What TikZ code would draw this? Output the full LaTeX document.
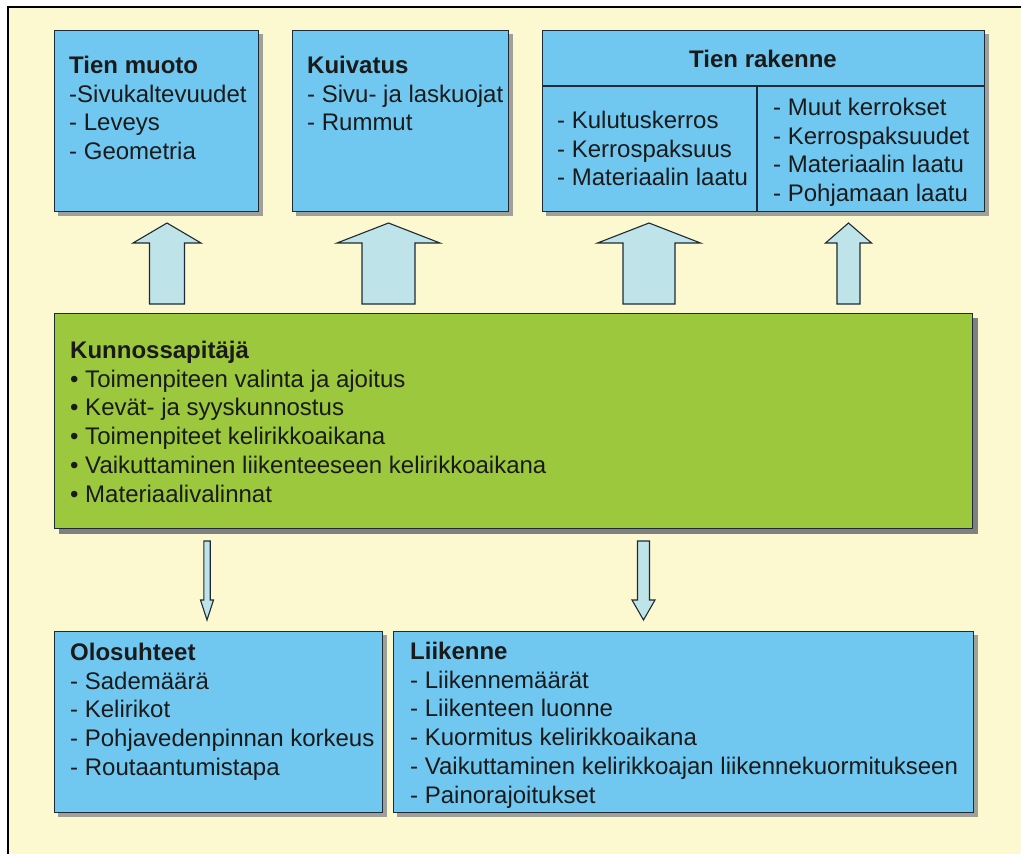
\documentclass[tikz,border=0pt]{standalone}
\usepackage{fontspec}
\setmainfont{Liberation Sans}
\usetikzlibrary{calc,backgrounds}

\definecolor{cream}{HTML}{FCF9D1}
\definecolor{skyfill}{HTML}{70C8F0}
\definecolor{leaf}{HTML}{9BC83C}
\definecolor{arrowfill}{HTML}{BEE3E8}
\definecolor{edge}{HTML}{1E2A35}
\definecolor{ink}{HTML}{1A1A1A}
\definecolor{softshadow}{HTML}{A0A09A}
\definecolor{darkshadow}{HTML}{808080}

\tikzset{
  box/.style={draw=edge, line width=1.4pt, anchor=north west, inner sep=0pt},
  bluebox/.style={box, fill=skyfill},
  greenbox/.style={box, fill=leaf},
  txt/.style={anchor=north west, inner sep=0pt, align=left, text=ink,
              font=\fontsize{24}{28.8}\selectfont},
  blockarrow/.style={draw=edge, line width=1.1pt, fill=arrowfill, line join=miter},
}

% first-line strut: puts the first baseline 20pt below the node top
\newcommand{\st}{\rule{0pt}{20pt}}
\newcommand{\hd}[1]{\textbf{#1}}

% block arrow from #1 (base) to #2 (tip), shaft half width #3,
% head half width #4, signed head length #5
\newcommand{\fatarrow}[5]{%
  \draw[blockarrow] ($(#1)+(-#3,0)$) -- ($(#2)+(-#3,#5)$) -- ($(#2)+(-#4,#5)$)
    -- (#2) -- ($(#2)+(#4,#5)$) -- ($(#2)+(#3,#5)$) -- ($(#1)+(#3,0)$) -- cycle;}

\begin{document}
\begin{tikzpicture}[x=1pt,y=-1pt]
\useasboundingbox (0,0) rectangle (1021,854);

% ---- boxes ----
\node[bluebox, minimum width=204pt, minimum height=181pt] (muoto) at (54,30) {};
\node[bluebox, minimum width=216pt, minimum height=181pt] (kuiv) at (292,30) {};
\node[bluebox, minimum width=442pt, minimum height=181pt] (rak) at (542,30) {};
\node[greenbox, minimum width=918pt, minimum height=215pt] (kp) at (54,313) {};
\node[bluebox, minimum width=328pt, minimum height=181pt] (olo) at (54,631) {};
\node[bluebox, minimum width=580pt, minimum height=181pt] (liik) at (393,631) {};

% dividers inside the road structure box
\draw[edge, line width=1.4pt] ($(rak.north west)+(0,56)$) -- ($(rak.north east)+(0,56)$);
\draw[edge, line width=1.4pt] ($(rak.north west)+(215,56)$) -- ($(rak.south west)+(215,0)$);

% ---- texts ----
\node[txt] (t-muoto) at (69,53)
  {\st\hd{Tien muoto}\\-Sivukaltevuudet\\- Leveys\\- Geometria};
\node[txt] (t-kuiv) at (307,53)
  {\st\hd{Kuivatus}\\- Sivu- ja laskuojat\\- Rummut};
\node[txt, anchor=base] (t-rak) at (763,67) {\hd{Tien rakenne}};
\node[txt] (t-rak1) at (557,108)
  {\st- Kulutuskerros\\- Kerrospaksuus\\- Materiaalin laatu};
\node[txt] (t-rak2) at (773,95)
  {\st- Muut kerrokset\\- Kerrospaksuudet\\- Materiaalin laatu\\- Pohjamaan laatu};
\node[txt] (t-kp) at (70,338)
  {\st\hd{Kunnossapitäjä}\\• Toimenpiteen valinta ja ajoitus\\• Kevät- ja syyskunnostus\\%
   • Toimenpiteet kelirikkoaikana\\• Vaikuttaminen liikenteeseen kelirikkoaikana\\• Materiaalivalinnat};
\node[txt] (t-olo) at (70,640)
  {\st\hd{Olosuhteet}\\- Sademäärä\\- Kelirikot\\- Pohjavedenpinnan korkeus\\- Routaantumistapa};
\node[txt] (t-liik) at (410,639)
  {\st\hd{Liikenne}\\- Liikennemäärät\\- Liikenteen luonne\\- Kuormitus kelirikkoaikana\\%
   - Vaikuttaminen kelirikkoajan liikennekuormitukseen\\- Painorajoitukset};

% ---- arrows ----
\coordinate (u1a) at (167,304);   \coordinate (u1b) at (167,223);
\coordinate (u2a) at (388.5,304); \coordinate (u2b) at (388.5,223);
\coordinate (u3a) at (649,304);   \coordinate (u3b) at (649,223);
\coordinate (u4a) at (848.5,304); \coordinate (u4b) at (848.5,223);
\coordinate (d1a) at (207,541);   \coordinate (d1b) at (207,620);
\coordinate (d2a) at (643.5,541); \coordinate (d2b) at (643.5,620);

\fatarrow{u1a}{u1b}{17.5}{34}{20}
\fatarrow{u2a}{u2b}{26.5}{51.5}{20}
\fatarrow{u3a}{u3b}{26}{51.5}{20}
\fatarrow{u4a}{u4b}{11.5}{23}{20}
\fatarrow{d1a}{d1b}{3.2}{6.5}{-20}
\fatarrow{d2a}{d2b}{6}{11.5}{-20}

% ---- page, frame and shadows ----
\begin{scope}[on background layer]
  \fill[white] (0,0) rectangle (1021,854);
  \fill[cream] (8,7) rectangle (1021,854);
  \draw[black, line width=1.6pt] (8,860) -- (8,7) -- (1030,7);
  \foreach \n in {muoto,kuiv,rak,olo,liik}
    \fill[softshadow] ([xshift=4pt,yshift=-4pt]\n.south west) rectangle ([xshift=4pt,yshift=-4pt]\n.north east);
  \fill[darkshadow] ([xshift=5pt,yshift=-5pt]kp.south west) rectangle ([xshift=5pt,yshift=-5pt]kp.north east);
\end{scope}
\end{tikzpicture}
\end{document}
